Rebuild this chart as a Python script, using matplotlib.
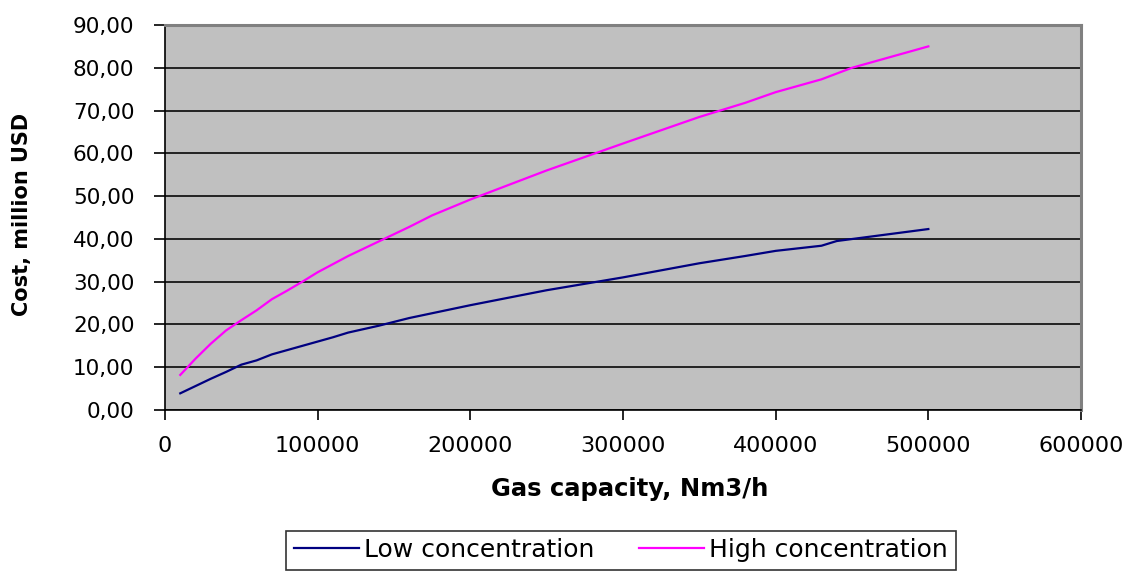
import matplotlib
matplotlib.use("Agg")
import matplotlib.pyplot as plt
from matplotlib.ticker import FuncFormatter, MultipleLocator

# Gas capacity (Nm3/h) and investment cost (million USD)
capacity_low = [10000, 20000, 30000, 40000, 50000, 60000, 70000, 80000, 90000,
                100000, 110000, 120000, 140000, 160000, 180000, 200000, 250000,
                300000, 350000, 380000, 400000, 430000, 440000, 470000, 500000]
cost_low = [3.9, 5.6, 7.3, 8.9, 10.6, 11.6, 13.0, 14.0, 15.0,
            16.0, 17.0, 18.1, 19.7, 21.5, 23.0, 24.5, 28.0,
            31.0, 34.3, 36.0, 37.2, 38.4, 39.5, 40.9, 42.3]

capacity_high = [10000, 20000, 30000, 40000, 50000, 60000, 70000, 80000, 90000,
                 100000, 120000, 140000, 160000, 175000, 200000, 250000, 300000,
                 350000, 380000, 400000, 430000, 450000, 500000]
cost_high = [8.2, 12.0, 15.5, 18.6, 21.0, 23.3, 25.9, 27.9, 30.0,
             32.2, 36.0, 39.4, 42.8, 45.5, 49.2, 56.0, 62.3,
             68.5, 71.8, 74.3, 77.3, 80.0, 85.0]

series_labels = ["Low concentration", "High concentration"]
x_title = "Gas capacity, Nm3/h"
y_title = "Cost, million USD"

plt.rcParams["font.family"] = ["DejaVu Sans"]

fig = plt.figure(figsize=(11.35, 5.75), dpi=100)
ax = fig.add_axes([165 / 1135, 1 - 410 / 575, (1081 - 165) / 1135, (410 - 25) / 575])
ax.set_facecolor("#C0C0C0")

ax.plot(capacity_low, cost_low, color="#000080", lw=1.6, label=series_labels[0])
ax.plot(capacity_high, cost_high, color="#FF00FF", lw=1.6, label=series_labels[1])

ax.set_xlim(0, 600000)
ax.set_ylim(0, 90)
ax.xaxis.set_major_locator(MultipleLocator(100000))
ax.yaxis.set_major_locator(MultipleLocator(10))
ax.yaxis.set_major_formatter(FuncFormatter(lambda v, p: f"{v:.2f}".replace(".", ",")))
ax.xaxis.set_major_formatter(FuncFormatter(lambda v, p: f"{int(v)}"))

ax.grid(axis="y", color="#222222", lw=1.4)
ax.set_axisbelow(True)

for side in ("top", "right"):
    ax.spines[side].set_color("#808080")
    ax.spines[side].set_linewidth(2.2)
ax.spines["left"].set_color("#000000")
ax.spines["bottom"].set_color("#000000")
ax.spines["left"].set_linewidth(1.2)
ax.spines["bottom"].set_linewidth(1.2)

ax.tick_params(axis="y", direction="out", length=8, width=1.2, pad=14, labelsize=15.5)
ax.tick_params(axis="x", direction="out", length=7, width=1.2, pad=12, labelsize=16)

fig.text(630 / 1135, 1 - 489 / 575, x_title, ha="center", va="center",
         fontsize=17.5, fontweight="bold")
fig.text(22 / 1135, 1 - 214 / 575, y_title, ha="center", va="center",
         rotation=90, fontsize=15, fontweight="bold")

leg = fig.legend(loc="center", bbox_to_anchor=(621 / 1135, 1 - 550 / 575),
                 ncol=2, fontsize=18, frameon=True, fancybox=False,
                 handlelength=2.6, handletextpad=0.2, columnspacing=1.8,
                 borderpad=0.3, borderaxespad=0)
leg.get_frame().set_edgecolor("#000000")
leg.get_frame().set_linewidth(1.2)

fig.savefig("out.png", dpi=100, facecolor="white")
